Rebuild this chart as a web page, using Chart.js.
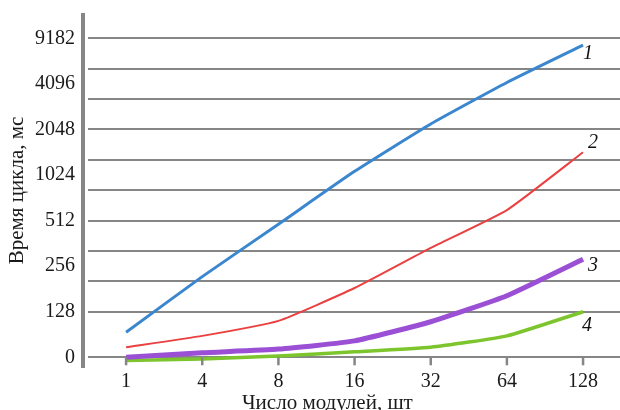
<!DOCTYPE html>
<html>
<head>
<meta charset="utf-8">
<script src="https://cdn.jsdelivr.net/npm/chart.js@4"></script>
<style>
  html, body { margin: 0; padding: 0; background: #fff; }
  #wrap { width: 620px; height: 410px; }
</style>
</head>
<body>
<div id="wrap"><canvas id="c"></canvas></div>
<script>
// x categories (number of modules) and y tick labels (cycle time, ms)
const xLabels = ['1', '4', '8', '16', '32', '64', '128'];
const yLabels = ['0', '128', '256', '512', '1024', '2048', '4096', '9182'];
const xTitle = 'Число модулей, шт';

// values are positions on the y axis in tick steps (0 = "0", 1 = "128", ... 7 = "9182")
const series1 = [0.55, 1.77, 2.92, 4.08, 5.12, 6.03, 6.85];
const series2 = [0.22, 0.47, 0.80, 1.52, 2.40, 3.23, 4.50];
const series3 = [0.00, 0.10, 0.18, 0.36, 0.78, 1.35, 2.15];
const series4 = [-0.07, -0.04, 0.03, 0.12, 0.22, 0.47, 1.00];
const seriesNames = ['1', '2', '3', '4'];

const serif = '"Liberation Serif", "DejaVu Serif", serif';
const gridColor = '#868686';

const toPoints = arr => arr.map((v, i) => ({ x: i, y: v }));

// gridlines: every tick step plus two in between, none between 0 and 128
const gridValues = [0, 1, 5 / 3, 7 / 3, 3, 11 / 3, 13 / 3, 5, 17 / 3, 19 / 3, 7];
const isGrid = v => gridValues.some(g => Math.abs(g - v) < 1e-6);
const yTickValues = [...new Set([...gridValues, ...yLabels.map((_, i) => i)])].sort((a, b) => a - b);

// y axis line slightly left of the grid, short x tick marks under the zero line, x title
const axisDecor = {
  id: 'axisDecor',
  afterDraw(chart) {
    const { ctx, chartArea } = chart;
    const xs = chart.scales.x, ys = chart.scales.y;
    ctx.save();
    ctx.strokeStyle = gridColor;
    ctx.lineWidth = 4;
    ctx.beginPath();
    ctx.moveTo(chartArea.left - 5, chartArea.top);
    ctx.lineTo(chartArea.left - 5, chartArea.bottom);
    ctx.stroke();
    const y0 = ys.getPixelForValue(0);
    ctx.lineWidth = 2.5;
    xLabels.forEach((_, i) => {
      const px = xs.getPixelForValue(i);
      ctx.beginPath();
      ctx.moveTo(px, y0);
      ctx.lineTo(px, y0 + 8);
      ctx.stroke();
    });
    // axis title sits a bit left of the plot centre in the original
    ctx.font = '21px ' + serif;
    ctx.fillStyle = '#1a1a1a';
    ctx.textAlign = 'center';
    ctx.textBaseline = 'middle';
    ctx.fillText(xTitle, chart.width * 0.528, xs.bottom - 7);
    ctx.restore();
  }
};

// italic curve numbers next to the end of each line
const endLabels = {
  id: 'endLabels',
  afterDatasetsDraw(chart, args, opts) {
    const { ctx } = chart;
    ctx.save();
    ctx.font = 'italic 20px ' + serif;
    ctx.fillStyle = '#111';
    ctx.textAlign = 'left';
    ctx.textBaseline = 'middle';
    chart.data.datasets.forEach((ds, i) => {
      const meta = chart.getDatasetMeta(i);
      const pt = meta.data[meta.data.length - 1];
      const off = opts.offsets[i];
      ctx.fillText(seriesNames[i], pt.x + off[0], pt.y + off[1]);
    });
    ctx.restore();
  }
};

const mkSet = (data, color, width) => ({
  data: toPoints(data),
  borderColor: color,
  backgroundColor: color,
  borderWidth: width,
  pointRadius: 0,
  tension: 0.15,
  fill: false
});

new Chart(document.getElementById('c'), {
  type: 'line',
  data: {
    datasets: [
      mkSet(series1, '#3a86cf', 3),
      mkSet(series2, '#ea4040', 2),
      mkSet(series3, '#9a4fd4', 5),
      mkSet(series4, '#7cc52d', 3.5)
    ]
  },
  options: {
    responsive: true,
    maintainAspectRatio: false,
    animation: false,
    layout: { padding: { top: 13, right: 0, bottom: 0, left: 0 } },
    plugins: {
      legend: { display: false },
      tooltip: { enabled: false },
      endLabels: { offsets: [[0, 9], [5, -9], [5, 6], [-1, 14]] }
    },
    scales: {
      x: {
        type: 'linear',
        min: -0.5,
        max: 6.485,
        grid: { display: false, drawTicks: false },
        border: { display: false },
        afterBuildTicks: s => { s.ticks = xLabels.map((_, i) => ({ value: i })); },
        afterFit: s => { s.height = 42; s.paddingLeft = 0; s.paddingRight = 0; },
        ticks: {
          autoSkip: false,
          maxRotation: 0,
          padding: 4,
          color: '#1a1a1a',
          font: { family: serif, size: 20, lineHeight: 1 },
          callback: v => xLabels[Math.round(v)]
        }
      },
      y: {
        type: 'linear',
        min: -0.235,
        max: 7.555,
        border: { display: false },
        grid: {
          color: c => (c.tick && isGrid(c.tick.value)) ? gridColor : 'rgba(0,0,0,0)',
          lineWidth: 2,
          drawTicks: false
        },
        afterBuildTicks: s => { s.ticks = yTickValues.map(v => ({ value: v })); },
        afterFit: s => { s.width = 88; s.paddingTop = 0; s.paddingBottom = 0; },
        ticks: {
          autoSkip: false,
          padding: 13,
          color: '#1a1a1a',
          font: { family: serif, size: 20, lineHeight: 1 },
          callback: v => {
            const r = Math.round(v);
            return Math.abs(v - r) < 1e-6 ? yLabels[r] : '';
          }
        },
        title: {
          display: true,
          text: 'Время цикла, мс',
          color: '#1a1a1a',
          padding: { top: 7, bottom: 10 },
          font: { family: serif, size: 21, lineHeight: 1 }
        }
      }
    }
  },
  plugins: [axisDecor, endLabels]
});
</script>
</body>
</html>
